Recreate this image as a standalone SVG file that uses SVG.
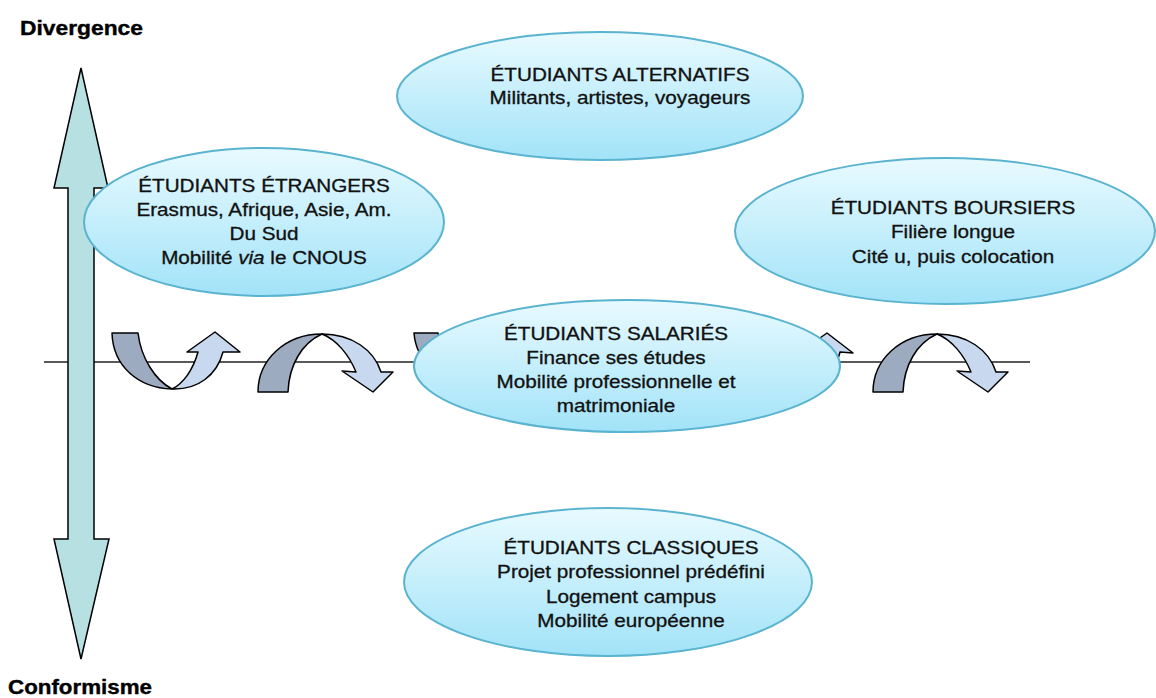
<svg xmlns="http://www.w3.org/2000/svg" width="1156" height="698" viewBox="0 0 1156 698">
  <style>
    .axis-label { font-family: "Liberation Sans", Arial, sans-serif; font-weight: bold; font-size: 21px; fill: #000; stroke: #000; stroke-width: 0.4; }
    .node-text { font-family: "Liberation Sans", Arial, sans-serif; font-size: 18px; fill: #111; stroke: #111; stroke-width: 0.3; text-anchor: middle; }
    .bubble { fill: url(#bubbleFill); stroke: #5ab3cf; stroke-width: 2; }
    .band-dark { fill: #9dabc0; stroke: #000; stroke-width: 1.5; stroke-linejoin: round; }
    .band-light { fill: #c8d8ef; stroke: #000; stroke-width: 1.5; stroke-linejoin: round; }
  </style>
  <defs>
    <linearGradient id="bubbleFill" x1="0" y1="0" x2="0" y2="1">
      <stop offset="0" stop-color="#e8faff"/>
      <stop offset="1" stop-color="#a2e3f8"/>
    </linearGradient>
  </defs>

  <rect width="1156" height="698" fill="#fff"/>

  <!-- axis labels -->
  <text class="axis-label" x="20" y="35" textLength="123" lengthAdjust="spacingAndGlyphs">Divergence</text>
  <text class="axis-label" x="8" y="694" textLength="144" lengthAdjust="spacingAndGlyphs">Conformisme</text>

  <!-- connectors: horizontal axis, vertical double arrow and turning arrows -->
  <g id="connectors">
    <path d="M44,362 H1030" stroke="#222" stroke-width="1.5" fill="none"/>
    <path d="M81,68 L108,188 L94,188 L94,539 L109,539 L81,659 L54,539 L68,539 L68,188 L54,188 Z" fill="#b7e0e3" stroke="#000" stroke-width="1.5" stroke-linejoin="miter"/>

    <!-- U-turn, rising to the right -->
    <g id="turn-1">
      <path class="band-dark" d="M112,333 L138,333 C141,358 155,380 172,389 C138,388 113,366 112,333 Z"/>
      <path class="band-light" d="M172,389 C198,390 217,375 223,352 L240,352 L215,332 L187,352 L198,352 C193,370 183,384 172,389 Z"/>
    </g>

    <!-- arch, falling to the right -->
    <g id="turn-2">
      <path class="band-dark" d="M258,392 L288,392 C289,365 302,343 322,334 C285,334 258,360 258,392 Z"/>
      <path class="band-light" d="M322,334 C352,334 374,350 381,372 L393,372 L373,392 L342,371 L356,372 C349,355 337,340 322,334 Z"/>
    </g>

    <!-- wide U-turn, mostly under the middle bubble -->
    <g id="turn-3">
      <path class="band-dark" d="M414,333 L438,333 C445,380 530,420 620,425 C510,425 418,390 414,333 Z"/>
      <path class="band-light" d="M620,425 C720,425 830,400 840,352 L853,353 L827,333 L800,352 L812,352 C800,385 720,420 620,425 Z"/>
    </g>

    <g id="turn-4" transform="translate(615,0)">
      <path class="band-dark" d="M258,392 L288,392 C289,365 302,343 322,334 C285,334 258,360 258,392 Z"/>
      <path class="band-light" d="M322,334 C352,334 374,350 381,372 L393,372 L373,392 L342,371 L356,372 C349,355 337,340 322,334 Z"/>
    </g>
  </g>

  <g id="alternatifs">
    <ellipse class="bubble" cx="600" cy="96" rx="203" ry="64"/>
    <g transform="translate(620,0) scale(1.15,1)">
      <text class="node-text" x="0" y="81">ÉTUDIANTS ALTERNATIFS</text>
      <text class="node-text" x="0" y="104">Militants, artistes, voyageurs</text>
    </g>
  </g>

  <g id="etrangers">
    <ellipse class="bubble" cx="264" cy="222" rx="180" ry="74"/>
    <g transform="translate(264,0) scale(1.15,1)">
      <text class="node-text" x="0" y="192">ÉTUDIANTS ÉTRANGERS</text>
      <text class="node-text" x="0" y="216">Erasmus, Afrique, Asie, Am.</text>
      <text class="node-text" x="0" y="240">Du Sud</text>
      <text class="node-text" x="0" y="264">Mobilité <tspan font-style="italic">via</tspan> le CNOUS</text>
    </g>
  </g>

  <g id="boursiers">
    <ellipse class="bubble" cx="945" cy="231" rx="210" ry="73"/>
    <g transform="translate(953,0) scale(1.15,1)">
      <text class="node-text" x="0" y="214">ÉTUDIANTS BOURSIERS</text>
      <text class="node-text" x="0" y="238">Filière longue</text>
      <text class="node-text" x="0" y="263">Cité u, puis colocation</text>
    </g>
  </g>

  <g id="salaries">
    <ellipse class="bubble" cx="627" cy="366" rx="213" ry="66"/>
    <g transform="translate(616,0) scale(1.15,1)">
      <text class="node-text" x="0" y="340">ÉTUDIANTS SALARIÉS</text>
      <text class="node-text" x="0" y="364">Finance ses études</text>
      <text class="node-text" x="0" y="388">Mobilité professionnelle et</text>
      <text class="node-text" x="0" y="412">matrimoniale</text>
    </g>
  </g>

  <g id="classiques">
    <ellipse class="bubble" cx="608" cy="582" rx="204" ry="74"/>
    <g transform="translate(631,0) scale(1.15,1)">
      <text class="node-text" x="0" y="554">ÉTUDIANTS CLASSIQUES</text>
      <text class="node-text" x="0" y="578">Projet professionnel prédéfini</text>
      <text class="node-text" x="0" y="603">Logement campus</text>
      <text class="node-text" x="0" y="627">Mobilité européenne</text>
    </g>
  </g>
</svg>
